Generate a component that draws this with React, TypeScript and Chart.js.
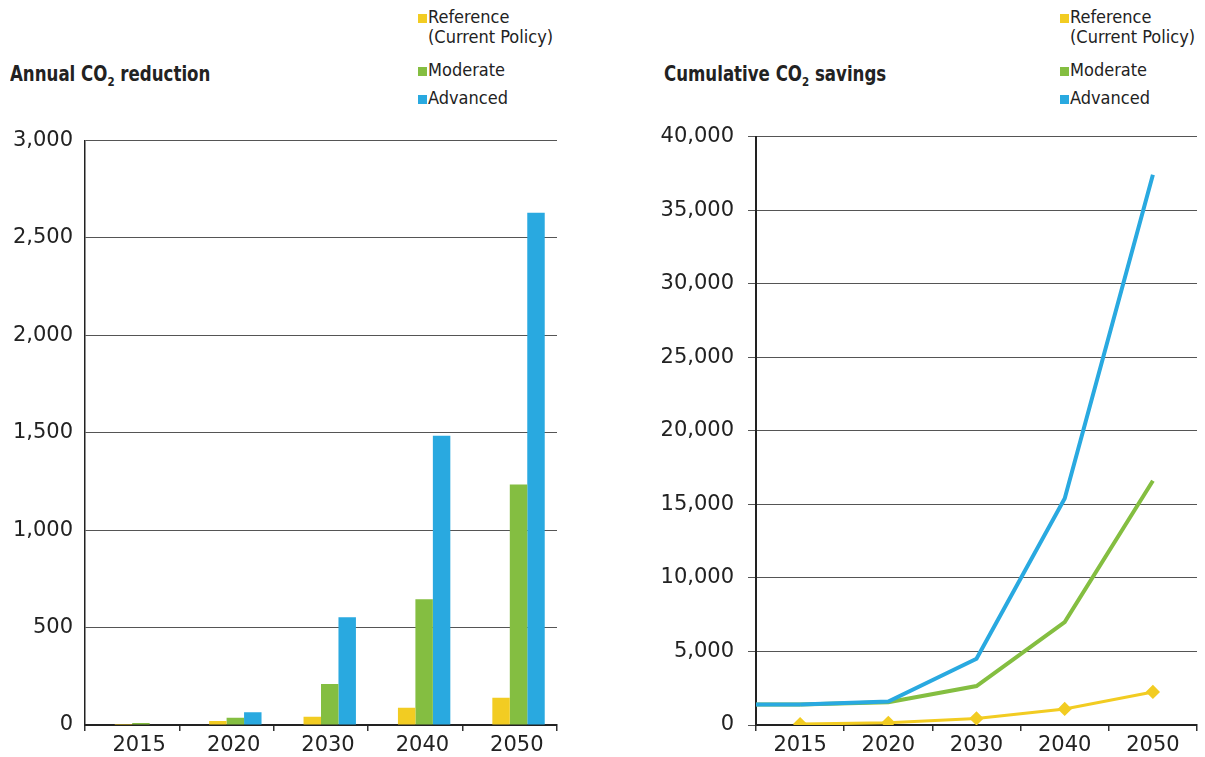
import { useEffect, useRef } from 'react'
import { Chart, registerables, Plugin } from 'chart.js'

Chart.register(...registerables)

const categories = ['2015', '2020', '2030', '2040', '2050']

// Annual CO2 reduction (bars)
const annualReference = [5, 20, 42, 88, 140]
const annualModerate = [10, 37, 210, 645, 1235]
const annualAdvanced = [0, 65, 553, 1485, 2630]

// Cumulative CO2 savings (lines)
const cumReference = [60, 150, 450, 1090, 2250]
const cumModerate = [1400, 1550, 2650, 7000, 16600]
const cumAdvanced = [1400, 1600, 4500, 15400, 37400]

const YELLOW = '#F2CC22'
const GREEN = '#84BE41'
const BLUE = '#29A9E0'

const tickFont = { family: 'DejaVu Sans', size: 21 }
const narrow = '"Liberation Sans Narrow", "DejaVu Sans Condensed", sans-serif'

// extends a line from the left edge of the plot to its first point
const extendLeft: Plugin = {
  id: 'extendLeft',
  beforeDatasetDraw(chart, args) {
    const ds: any = chart.data.datasets[args.index]
    if (!ds.extendLeft) return
    const first: any = args.meta.data[0]
    if (!first) return
    const ctx = chart.ctx
    ctx.save()
    ctx.strokeStyle = ds.borderColor
    ctx.lineWidth = ds.borderWidth
    ctx.beginPath()
    ctx.moveTo(chart.chartArea.left, first.y)
    ctx.lineTo(first.x, first.y)
    ctx.stroke()
    ctx.restore()
  }
}

function AnnualChart() {
  const chartRef = useRef<HTMLCanvasElement | null>(null)
  const chartInstance = useRef<Chart | null>(null)

  useEffect(() => {
    if (!chartRef.current) return
    if (chartInstance.current) chartInstance.current.destroy()

    chartInstance.current = new Chart(chartRef.current, {
      type: 'bar',
      data: {
        labels: categories,
        datasets: [
          // empty spacer slot: the original groups sit a little right of the category centre
          { label: '', data: [], backgroundColor: 'transparent' },
          { label: 'Reference (Current Policy)', data: annualReference, backgroundColor: YELLOW },
          { label: 'Moderate', data: annualModerate, backgroundColor: GREEN },
          { label: 'Advanced', data: annualAdvanced, backgroundColor: BLUE }
        ]
      },
      options: {
        animation: false,
        responsive: false,
        layout: { padding: { top: 0, right: 18, left: 0, bottom: 0 } },
        datasets: { bar: { categoryPercentage: 0.74, barPercentage: 1 } },
        plugins: { legend: { display: false }, tooltip: { enabled: false } },
        scales: {
          x: {
            afterFit: (s: any) => { s.height = 32 },
            grid: { drawOnChartArea: false, offset: true, tickLength: 6, color: '#333', lineWidth: 1.5 },
            border: { color: '#222', width: 2 },
            ticks: { font: tickFont, color: '#222', padding: 2, labelOffset: 7 }
          },
          y: {
            min: 0,
            max: 3000,
            afterFit: (s: any) => { s.width = 85 },
            grid: { color: '#555', lineWidth: 1, drawTicks: false },
            border: { color: '#222', width: 1.5 },
            ticks: { stepSize: 500, font: tickFont, color: '#222', padding: 12 }
          }
        }
      }
    })

    return () => {
      if (chartInstance.current) {
        chartInstance.current.destroy()
        chartInstance.current = null
      }
    }
  }, [])

  return <canvas ref={chartRef} width={575} height={641} />
}

function CumulativeChart() {
  const chartRef = useRef<HTMLCanvasElement | null>(null)
  const chartInstance = useRef<Chart | null>(null)

  useEffect(() => {
    if (!chartRef.current) return
    if (chartInstance.current) chartInstance.current.destroy()

    chartInstance.current = new Chart(chartRef.current, {
      type: 'line',
      data: {
        labels: categories,
        datasets: [
          {
            label: 'Reference (Current Policy)', data: cumReference, borderColor: YELLOW, backgroundColor: YELLOW,
            borderWidth: 3, pointStyle: 'rectRot', pointRadius: 5, order: 0
          },
          {
            label: 'Moderate', data: cumModerate, borderColor: GREEN, backgroundColor: GREEN,
            borderWidth: 4, pointRadius: 0, order: 2, extendLeft: true
          } as any,
          {
            label: 'Advanced', data: cumAdvanced, borderColor: BLUE, backgroundColor: BLUE,
            borderWidth: 4, pointRadius: 0, order: 1, extendLeft: true
          } as any
        ]
      },
      options: {
        animation: false,
        responsive: false,
        layout: { padding: { top: 0, right: 8, left: 0, bottom: 0 } },
        plugins: { legend: { display: false }, tooltip: { enabled: false } },
        scales: {
          x: {
            offset: true,
            afterFit: (s: any) => { s.height = 32 },
            grid: { drawOnChartArea: false, offset: true, tickLength: 6, color: '#333', lineWidth: 1.5 },
            border: { color: '#222', width: 2 },
            ticks: { font: tickFont, color: '#222', padding: 2 }
          },
          y: {
            min: 0,
            max: 40000,
            afterFit: (s: any) => { s.width = 156 },
            grid: { color: '#555', lineWidth: 1, tickLength: 8 },
            border: { color: '#222', width: 2 },
            ticks: { stepSize: 5000, font: tickFont, color: '#222', padding: 14 }
          }
        }
      },
      plugins: [extendLeft]
    })

    return () => {
      if (chartInstance.current) {
        chartInstance.current.destroy()
        chartInstance.current = null
      }
    }
  }, [])

  return <canvas ref={chartRef} width={605} height={647} />
}

function Legend({ left }: { left: number }) {
  const text = { position: 'absolute' as const, left: left + 10, fontFamily: narrow, fontSize: 18, lineHeight: '20px', color: '#222', whiteSpace: 'nowrap' as const }
  const box = (color: string, top: number) => (
    <div style={{ position: 'absolute', left, top, width: 9, height: 9, background: color }} />
  )
  return (
    <>
      {box(YELLOW, 14)}
      <div style={{ ...text, top: 7 }}>Reference</div>
      <div style={{ ...text, top: 27 }}>(Current Policy)</div>
      {box(GREEN, 67)}
      <div style={{ ...text, top: 60 }}>Moderate</div>
      {box(BLUE, 95)}
      <div style={{ ...text, top: 88 }}>Advanced</div>
    </>
  )
}

function Title({ left, children }: { left: number; children: any }) {
  return (
    <div style={{
      position: 'absolute', left, top: 62, fontFamily: narrow, fontWeight: 'bold', fontSize: 21, lineHeight: '24px',
      color: '#222', whiteSpace: 'nowrap', transform: 'scaleX(0.88)', transformOrigin: 'left center'
    }}>
      {children}
    </div>
  )
}

const sub = { fontSize: 13, verticalAlign: '-5px' }

export default function App() {
  return (
    <div style={{ position: 'fixed', left: 0, top: 0, width: 1205, height: 757, background: '#fff', overflow: 'hidden' }}>
      <Title left={10}>Annual CO<span style={sub}>2</span> reduction</Title>
      <Legend left={418} />
      <div style={{ position: 'absolute', left: 0, top: 116 }}>
        <AnnualChart />
      </div>
      <Title left={664}>Cumulative CO<span style={sub}>2</span> savings</Title>
      <Legend left={1060} />
      <div style={{ position: 'absolute', left: 600, top: 110 }}>
        <CumulativeChart />
      </div>
    </div>
  )
}
